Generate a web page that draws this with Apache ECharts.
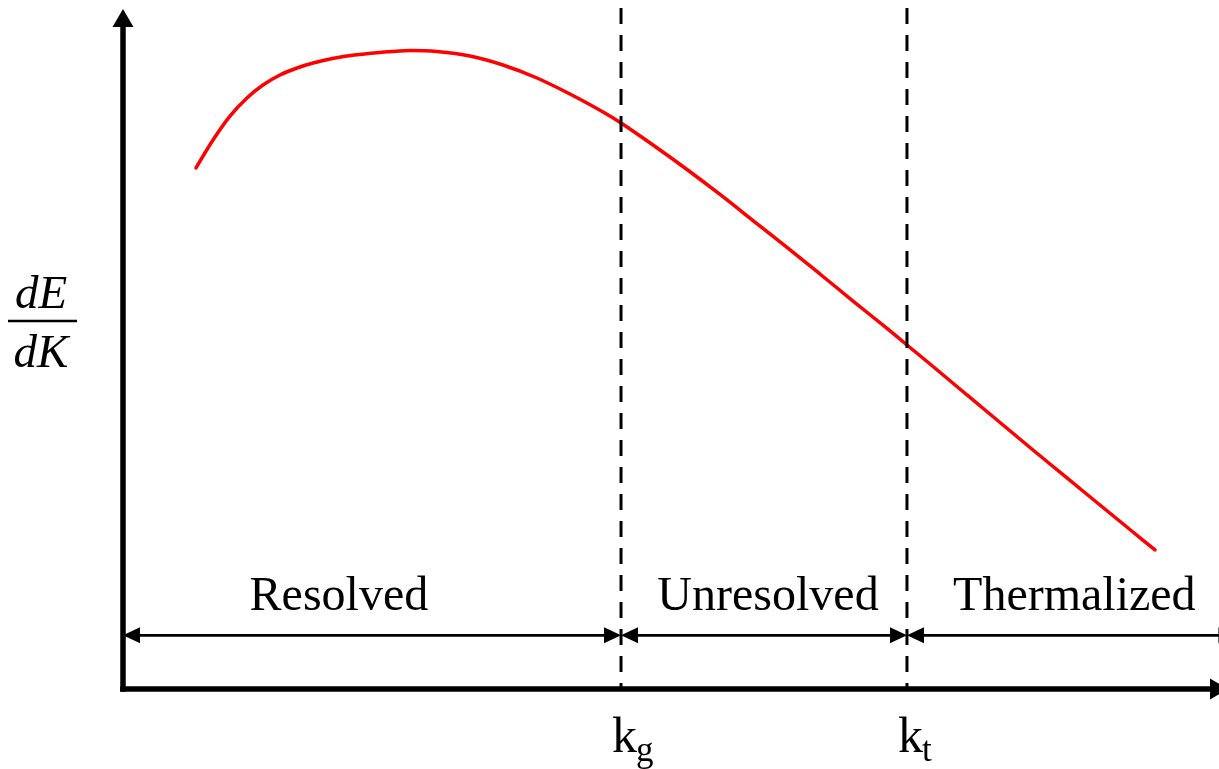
<!DOCTYPE html>
<html>
<head>
<meta charset="utf-8">
<script src="https://cdn.jsdelivr.net/npm/echarts@6/dist/echarts.min.js"></script>
<style>
  html, body { margin: 0; padding: 0; background: #fff; }
  #chart { width: 1219px; height: 769px; }
</style>
</head>
<body>
<div id="chart"></div>
<script>
// Energy spectrum dE/dK against wavenumber k (arbitrary units, 0..100 on both axes)
const curveK = [6.66, 8.21, 9.76, 11.31, 12.77, 14.32, 15.88, 17.34, 18.89, 20.44, 23.45, 26.19,
  28.65, 31.66, 34.67, 37.77, 40.78, 43.80, 45.44, 48.36, 51.46, 54.47, 57.48, 60.58, 63.59,
  66.61, 69.71, 71.53, 73.91, 77.01, 80.02, 83.03, 86.13, 89.14, 92.15, 94.16];
const curveE = [77.65, 81.82, 85.39, 88.08, 90.01, 91.51, 92.55, 93.29, 93.89, 94.34, 94.86, 95.16,
  95.01, 94.34, 93.00, 91.06, 88.67, 85.99, 84.35, 81.07, 77.42, 73.70, 69.82, 65.80, 61.85,
  57.82, 53.73, 51.27, 48.06, 43.82, 39.72, 35.62, 31.45, 27.42, 23.40, 20.72];

// Cutoff wavenumbers k_g and k_t
const cutoffSub = ['g', 't'];
const cutoffK = [45.44, 71.53];
const cutoffTop = 101.5;

// Wavenumber ranges separated by the cutoffs
const rangeNames = ['Resolved', 'Unresolved', 'Thermalized'];
const rangeStart = [0, 45.44, 71.53];
const rangeEnd = [45.44, 71.53, 101.5];
const rangeLabelK = [19.7, 58.85, 86.8];
const rangeArrowLevel = 8;
const rangeLabelLevel = 13.7;

const SERIF = "'Liberation Serif', 'Times New Roman', serif";

const chart = echarts.init(document.getElementById('chart'), null, { renderer: 'canvas' });

const axisCommon = {
  type: 'value', min: 0, max: 100,
  axisLine: {
    show: true, symbol: ['none', 'triangle'], symbolSize: [21, 18],
    lineStyle: { color: '#000', width: 5.5, cap: 'square' }
  },
  axisTick: { show: false }, axisLabel: { show: false }, splitLine: { show: false }
};

chart.setOption({
  animation: false,
  backgroundColor: '#fff',
  grid: { left: 123, right: 0, top: 18, bottom: 80 },
  xAxis: Object.assign({}, axisCommon),
  yAxis: Object.assign({}, axisCommon),
  graphic: [
    { type: 'text', x: 41, y: 296, style: { text: 'dE', font: 'italic 47px ' + SERIF, fill: '#000', align: 'center', verticalAlign: 'middle' } },
    { type: 'line', shape: { x1: 8, y1: 321, x2: 77, y2: 321 }, style: { stroke: '#000', lineWidth: 2.5 } },
    { type: 'text', x: 41, y: 355, style: { text: 'dK', font: 'italic 47px ' + SERIF, fill: '#000', align: 'center', verticalAlign: 'middle' } }
  ],
  series: [
    {
      name: 'spectrum', type: 'line', smooth: 0.3, symbol: 'none', z: 3,
      data: curveK.map((k, i) => [k, curveE[i]]),
      lineStyle: { color: '#ff0000', width: 3.5, cap: 'round' }
    },
    {
      // Span arrows with the range names above them
      name: 'ranges', type: 'custom', clip: false, z: 4,
      data: rangeNames.map((n, i) => [rangeStart[i], rangeEnd[i], rangeArrowLevel, rangeLabelK[i], rangeLabelLevel]),
      renderItem: function (params, api) {
        const a = api.coord([api.value(0), api.value(2)]);
        const b = api.coord([api.value(1), api.value(2)]);
        const t = api.coord([api.value(3), api.value(4)]);
        const L = 17, H = 8;
        return {
          type: 'group',
          children: [
            { type: 'line', shape: { x1: a[0] + 4, y1: a[1], x2: b[0] - 4, y2: b[1] }, style: { stroke: '#000', lineWidth: 2.7 } },
            { type: 'polygon', shape: { points: [[a[0], a[1]], [a[0] + L, a[1] - H], [a[0] + L, a[1] + H]] }, style: { fill: '#000' } },
            { type: 'polygon', shape: { points: [[b[0], b[1]], [b[0] - L, b[1] - H], [b[0] - L, b[1] + H]] }, style: { fill: '#000' } },
            { type: 'text', x: t[0], y: t[1], style: { text: rangeNames[params.dataIndex], font: '48px ' + SERIF, fill: '#000', align: 'center', verticalAlign: 'middle' } }
          ]
        };
      }
    },
    {
      // Dashed cutoff lines with k_g / k_t labels under the axis
      name: 'cutoffs', type: 'custom', clip: false, z: 5,
      data: cutoffK.map(k => [k, cutoffTop]),
      renderItem: function (params, api) {
        const bottom = api.coord([api.value(0), 0]);
        const top = api.coord([api.value(0), api.value(1)]);
        const x = bottom[0];
        return {
          type: 'group',
          children: [
            { type: 'line', shape: { x1: x, y1: top[1], x2: x, y2: bottom[1] }, style: { stroke: '#000', lineWidth: 3, lineDash: [16, 11] } },
            { type: 'text', x: x - 9, y: bottom[1] + 75, style: { text: 'k', font: '50px ' + SERIF, fill: '#000', align: 'left', verticalAlign: 'bottom' } },
            { type: 'text', x: x + 15, y: bottom[1] + 80, style: { text: cutoffSub[params.dataIndex], font: '35px ' + SERIF, fill: '#000', align: 'left', verticalAlign: 'bottom' } }
          ]
        };
      }
    }
  ]
});
</script>
</body>
</html>
